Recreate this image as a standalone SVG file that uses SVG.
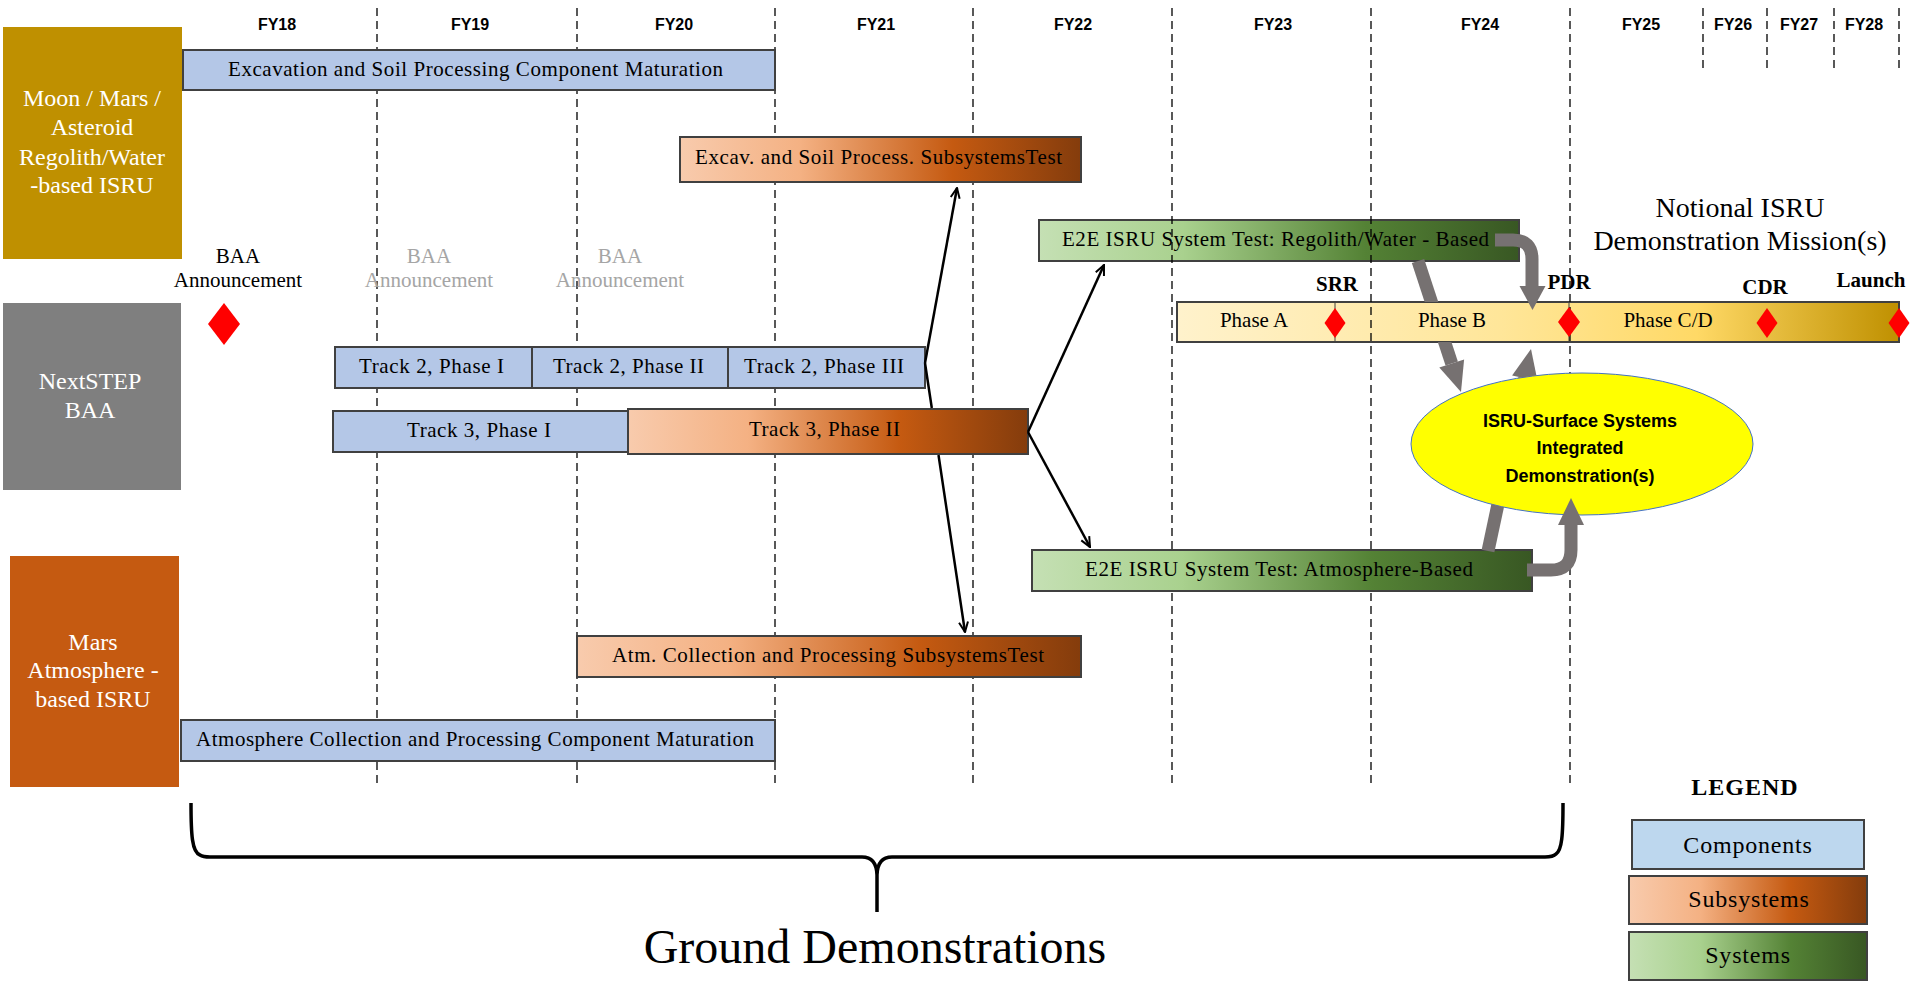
<svg xmlns="http://www.w3.org/2000/svg" width="1911" height="981" viewBox="0 0 1911 981">
<style>
.bar{stroke:#404040;stroke-width:2}
.comp{fill:#B4C7E7}
.t{font-family:"Liberation Serif","Times New Roman",serif;fill:#000}
.bt{font-family:"Liberation Serif","Times New Roman",serif;font-size:21px;fill:#000}
.cat{font-family:"Liberation Serif","Times New Roman",serif;font-size:24px;fill:#fff;text-anchor:middle}
.fy{font-family:"Liberation Sans",Arial,sans-serif;font-size:16px;font-weight:bold;fill:#000;text-anchor:middle}
.grid line{stroke:#000;stroke-width:1.3;stroke-dasharray:8 5}
.ms{font-family:"Liberation Serif","Times New Roman",serif;font-size:21px;font-weight:bold;fill:#000;text-anchor:middle}
.dia{fill:#FF0000}
.blk{stroke:#000;stroke-width:2.5;fill:none;marker-end:url(#arr)}
.gry{stroke:#767171;stroke-width:13;fill:none}
.gh{fill:#767171}
</style>
<defs>
<linearGradient id="gSub" x1="0" y1="0" x2="1" y2="0">
<stop offset="0" stop-color="#F8CBAD"/><stop offset="0.3" stop-color="#F4B183"/><stop offset="0.68" stop-color="#C55A11"/><stop offset="1" stop-color="#843C0C"/>
</linearGradient>
<linearGradient id="gSys" x1="0" y1="0" x2="1" y2="0">
<stop offset="0" stop-color="#C5E0B4"/><stop offset="0.3" stop-color="#A9D18E"/><stop offset="0.68" stop-color="#548235"/><stop offset="1" stop-color="#385723"/>
</linearGradient>
<linearGradient id="gPh" x1="0" y1="0" x2="1" y2="0">
<stop offset="0" stop-color="#FFF2CC"/><stop offset="0.45" stop-color="#FFE699"/><stop offset="0.72" stop-color="#FFD966"/><stop offset="1" stop-color="#BF9000"/>
</linearGradient>
<marker id="arr" viewBox="0 0 12 12" refX="11" refY="6" markerWidth="12" markerHeight="12" markerUnits="userSpaceOnUse" orient="auto">
<path d="M1 1.5 L11 6 L1 10.5" fill="none" stroke="#000" stroke-width="2"/>
</marker>
<clipPath id="cut">
<path clip-rule="evenodd" d="M0 0H1911V981H0Z M1177 302H1899V342H1177Z M1411 444A171 71 0 1 0 1753 444A171 71 0 1 0 1411 444Z"/>
</clipPath>
</defs>
<rect width="1911" height="981" fill="#fff"/>

<g id="phase-bar">
<rect x="1177" y="302" width="722" height="40" fill="url(#gPh)" class="bar"/>
<line x1="1335" y1="302" x2="1335" y2="342" stroke="#404040" stroke-width="1"/>
<line x1="1569" y1="302" x2="1569" y2="342" stroke="#404040" stroke-width="1"/>
<text class="bt" x="1254" y="327" text-anchor="middle">Phase A</text>
<text class="bt" x="1452" y="327" text-anchor="middle">Phase B</text>
<text class="bt" x="1668" y="327" text-anchor="middle">Phase C/D</text>
</g>
<g id="e2e-regolith">
<rect x="1039" y="220" width="480" height="41" fill="url(#gSys)" class="bar"/>
<text class="bt" x="1062" y="246" textLength="427" lengthAdjust="spacing">E2E ISRU System Test: Regolith/Water - Based</text>
</g>

<g class="grid" id="grid">
<line x1="377" y1="8" x2="377" y2="783"/>
<line x1="577" y1="8" x2="577" y2="783"/>
<line x1="775" y1="8" x2="775" y2="783"/>
<line x1="973" y1="8" x2="973" y2="783"/>
<line x1="1172" y1="8" x2="1172" y2="783"/>
<line x1="1371" y1="8" x2="1371" y2="783"/>
<line x1="1570" y1="8" x2="1570" y2="783"/>
<line x1="1703" y1="8" x2="1703" y2="72"/>
<line x1="1767" y1="8" x2="1767" y2="72"/>
<line x1="1834" y1="8" x2="1834" y2="72"/>
<line x1="1899" y1="8" x2="1899" y2="72"/>
</g>

<g id="fy-labels">
<text class="fy" x="277" y="30">FY18</text>
<text class="fy" x="470" y="30">FY19</text>
<text class="fy" x="674" y="30">FY20</text>
<text class="fy" x="876" y="30">FY21</text>
<text class="fy" x="1073" y="30">FY22</text>
<text class="fy" x="1273" y="30">FY23</text>
<text class="fy" x="1480" y="30">FY24</text>
<text class="fy" x="1641" y="30">FY25</text>
<text class="fy" x="1733" y="30">FY26</text>
<text class="fy" x="1799" y="30">FY27</text>
<text class="fy" x="1864" y="30">FY28</text>
</g>

<g id="cat-regolith">
<rect x="3" y="27" width="179" height="232" fill="#BF9000"/>
<text class="cat" x="92" y="106">Moon / Mars /</text>
<text class="cat" x="92" y="135">Asteroid</text>
<text class="cat" x="92" y="165">Regolith/Water</text>
<text class="cat" x="92" y="193">-based ISRU</text>
</g>
<g id="cat-nextstep">
<rect x="3" y="303" width="178" height="187" fill="#7F7F7F"/>
<text class="cat" x="90" y="389">NextSTEP</text>
<text class="cat" x="90" y="418">BAA</text>
</g>
<g id="cat-atmosphere">
<rect x="10" y="556" width="169" height="231" fill="#C55A11"/>
<text class="cat" x="93" y="650">Mars</text>
<text class="cat" x="93" y="678">Atmosphere -</text>
<text class="cat" x="93" y="707">based ISRU</text>
</g>

<g id="baa-1">
<text class="t" x="238" y="263" font-size="21" text-anchor="middle">BAA</text>
<text class="t" x="238" y="287" font-size="21" text-anchor="middle">Announcement</text>
<path class="dia" d="M224 303 L240 324 L224 345 L208 324 Z"/>
</g>
<g id="baa-2">
<text class="t" x="429" y="263" font-size="21" text-anchor="middle" style="fill:#A5A5A5">BAA</text>
<text class="t" x="429" y="287" font-size="21" text-anchor="middle" style="fill:#A5A5A5">Announcement</text>
</g>
<g id="baa-3">
<text class="t" x="620" y="263" font-size="21" text-anchor="middle" style="fill:#A5A5A5">BAA</text>
<text class="t" x="620" y="287" font-size="21" text-anchor="middle" style="fill:#A5A5A5">Announcement</text>
</g>

<g id="excav-comp">
<rect x="183" y="50" width="592" height="40" class="bar comp"/>
<text class="bt" x="228" y="76" textLength="495" lengthAdjust="spacing">Excavation and Soil Processing Component Maturation</text>
</g>
<g id="excav-sub">
<rect x="680" y="137" width="401" height="45" fill="url(#gSub)" class="bar"/>
<text class="bt" x="695" y="164" textLength="367" lengthAdjust="spacing">Excav. and Soil Process. SubsystemsTest</text>
</g>
<g id="track2-p1">
<rect x="335" y="347" width="197" height="41" class="bar comp"/>
<text class="bt" x="359" y="373" textLength="145" lengthAdjust="spacing">Track 2, Phase I</text>
</g>
<g id="track2-p2">
<rect x="532" y="347" width="196" height="41" class="bar comp"/>
<text class="bt" x="553" y="373" textLength="151" lengthAdjust="spacing">Track 2, Phase II</text>
</g>
<g id="track2-p3">
<rect x="728" y="347" width="197" height="41" class="bar comp"/>
<text class="bt" x="744" y="373" textLength="160" lengthAdjust="spacing">Track 2, Phase III</text>
</g>
<g id="track3-p1">
<rect x="333" y="411" width="296" height="41" class="bar comp"/>
<text class="bt" x="407" y="437" textLength="144" lengthAdjust="spacing">Track 3, Phase I</text>
</g>
<g id="track3-p2">
<rect x="628" y="409" width="400" height="45" fill="url(#gSub)" class="bar"/>
<text class="bt" x="749" y="436" textLength="151" lengthAdjust="spacing">Track 3, Phase II</text>
</g>
<g id="e2e-atmosphere">
<rect x="1032" y="550" width="500" height="41" fill="url(#gSys)" class="bar"/>
<text class="bt" x="1085" y="576" textLength="388" lengthAdjust="spacing">E2E ISRU System Test: Atmosphere-Based</text>
</g>
<g id="atm-sub">
<rect x="577" y="636" width="504" height="41" fill="url(#gSub)" class="bar"/>
<text class="bt" x="612" y="662" textLength="432" lengthAdjust="spacing">Atm. Collection and Processing SubsystemsTest</text>
</g>
<g id="atm-comp">
<rect x="181" y="720" width="594" height="41" class="bar comp"/>
<text class="bt" x="196" y="746" textLength="558" lengthAdjust="spacing">Atmosphere Collection and Processing Component Maturation</text>
</g>

<g id="milestones">
<text class="ms" x="1337" y="291">SRR</text>
<text class="ms" x="1569" y="289">PDR</text>
<text class="ms" x="1765" y="294">CDR</text>
<text class="ms" x="1871" y="287">Launch</text>
<path class="dia" d="M1335 308 L1345.5 323 L1335 338 L1324.5 323 Z"/>
<path class="dia" d="M1569 307 L1580 322 L1569 337 L1558 322 Z"/>
<path class="dia" d="M1767 308 L1777.5 323 L1767 338 L1756.5 323 Z"/>
<path class="dia" d="M1899 308 L1909.5 323 L1899 338 L1888.5 323 Z"/>
</g>

<g id="mission-title">
<text class="t" x="1740" y="217" font-size="28" text-anchor="middle">Notional ISRU</text>
<text class="t" x="1740" y="250" font-size="28" text-anchor="middle">Demonstration Mission(s)</text>
</g>

<g id="integrated-demo">
<ellipse cx="1582" cy="444" rx="171" ry="71" fill="#FFFF00" stroke="#4472C4" stroke-width="1"/>
<g font-family="'Liberation Sans',Arial,sans-serif" font-size="18" font-weight="bold" text-anchor="middle" fill="#000">
<text x="1580" y="427">ISRU-Surface Systems</text>
<text x="1580" y="454">Integrated</text>
<text x="1580" y="482">Demonstration(s)</text>
</g>
</g>

<g id="connectors">
<path class="blk" d="M925 363 L957 188"/>
<path class="blk" d="M925 363 L931.8 408 M938.5 455 L965 632"/>
<path class="blk" d="M1028 432 L1104 265"/>
<path class="blk" d="M1028 432 L1090 547"/>
<g clip-path="url(#cut)">
<path class="gry" d="M1418 261 L1451.7 363.5"/>
<path class="gh" d="M1464.1 359.5 L1439.3 367.5 L1461 392 Z"/>
<path class="gry" d="M1488 551 L1524.8 378.3"/>
<path class="gh" d="M1537.5 381 L1512.1 375.6 L1531 349 Z"/>
</g>
<path class="gry" d="M1495 240 H1513 Q1532 240 1532 259 V287"/>
<path class="gh" d="M1519.5 286 L1545.5 286 L1532.5 310 Z"/>
<path class="gry" d="M1527 570 H1551 Q1571 570 1571 550 V524"/>
<path class="gh" d="M1558 525 L1584 525 L1571 498 Z"/>
</g>

<g id="ground-demo">
<path d="M191 803 C191 835 192 852 200 855 Q203 857 210 857 L862 857 Q876.5 857 877 875 L877 912 L877 875 Q877.5 857 892 857 L1545 857 Q1553 857 1556 854 C1562 850 1563 835 1563 803" fill="none" stroke="#000" stroke-width="3.5"/>
<text class="t" x="875" y="963" font-size="48" text-anchor="middle">Ground Demonstrations</text>
</g>

<g id="legend">
<text class="t" x="1745" y="795" font-size="24" font-weight="bold" text-anchor="middle" letter-spacing="1">LEGEND</text>
</g>
<g id="legend-components">
<rect x="1632" y="820" width="232" height="49" fill="#BDD7EE" class="bar"/>
<text class="t" x="1748" y="853" font-size="24" text-anchor="middle" letter-spacing="0.8">Components</text>
</g>
<g id="legend-subsystems">
<rect x="1629" y="876" width="238" height="48" fill="url(#gSub)" class="bar"/>
<text class="t" x="1749" y="907" font-size="24" text-anchor="middle" letter-spacing="0.8">Subsystems</text>
</g>
<g id="legend-systems">
<rect x="1629" y="932" width="238" height="48" fill="url(#gSys)" class="bar"/>
<text class="t" x="1748" y="963" font-size="24" text-anchor="middle" letter-spacing="0.8">Systems</text>
</g>
</svg>
